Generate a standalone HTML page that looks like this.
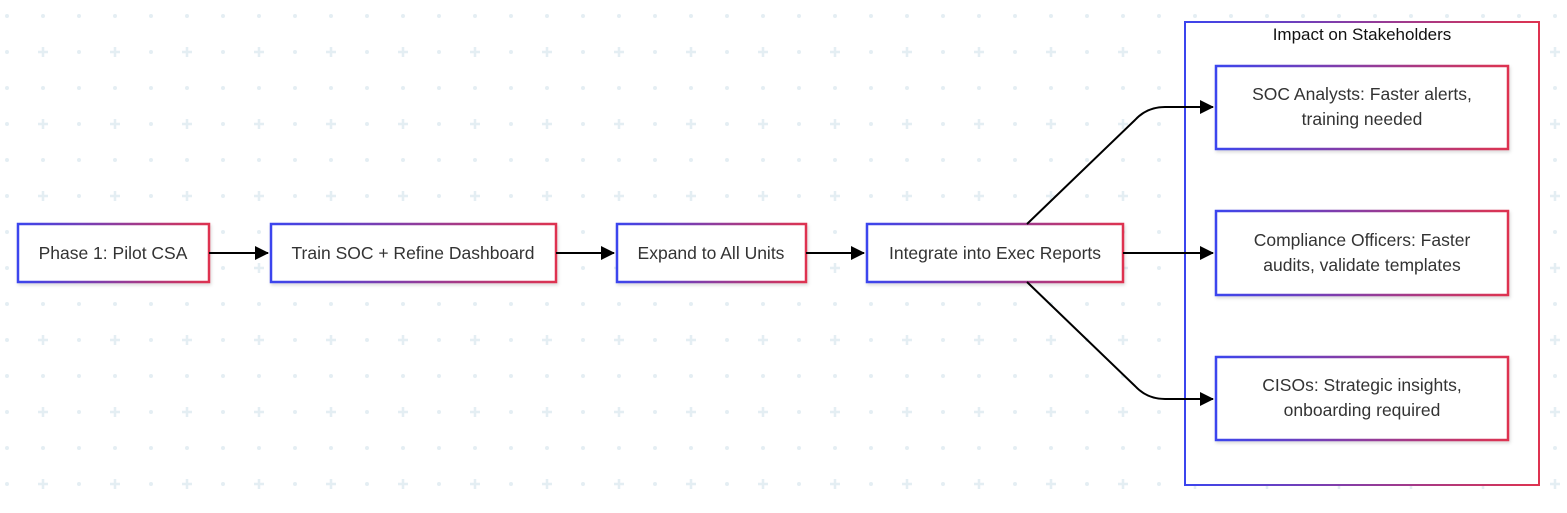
<!DOCTYPE html>
<html><head><meta charset="utf-8"><style>
html,body{margin:0;padding:0;background:#fff;}
svg{display:block;font-family:"Liberation Sans",Arial,sans-serif;}
</style></head><body>
<svg width="1567" height="513" viewBox="0 0 1567 513" xmlns="http://www.w3.org/2000/svg">
<defs>
<pattern id="bg" x="7" y="16" width="72" height="72" patternUnits="userSpaceOnUse">
<circle cx="0" cy="0" r="2" fill="#e4eef3"/><circle cx="72" cy="0" r="2" fill="#e4eef3"/>
<circle cx="0" cy="72" r="2" fill="#e4eef3"/><circle cx="72" cy="72" r="2" fill="#e4eef3"/>
<circle cx="36" cy="0" r="2" fill="#e4eef3"/><circle cx="0" cy="36" r="2" fill="#e4eef3"/>
<circle cx="72" cy="36" r="2" fill="#e4eef3"/><circle cx="36" cy="72" r="2" fill="#e4eef3"/>
<path d="M36 31v10M31 36h10" stroke="#e4eef3" stroke-width="2.5"/>
</pattern>
<linearGradient id="g" x1="0" y1="0" x2="1" y2="0"><stop offset="0" stop-color="#3b45ee"/><stop offset="1" stop-color="#de3350"/></linearGradient>
<marker id="a" markerWidth="14" markerHeight="14" refX="13" refY="7" orient="auto" markerUnits="userSpaceOnUse" viewBox="0 0 14 14"><path d="M0 0L14 7L0 14z" fill="#000"/></marker>
<filter id="s" x="-5%" y="-5%" width="110%" height="115%"><feDropShadow dx="1" dy="2" stdDeviation="1.5" flood-opacity="0.15"/></filter>
</defs>
<rect width="1567" height="513" fill="#fff"/>
<rect width="1567" height="513" fill="url(#bg)"/>
<rect x="1185" y="22" width="354" height="463" fill="#fff" stroke="url(#g)" stroke-width="2"/>
<text x="1362" y="40" font-size="17" text-anchor="middle" fill="#111">Impact on Stakeholders</text>
<g fill="#fff" stroke="url(#g)" stroke-width="2.5" filter="url(#s)">
<rect x="18" y="224" width="191" height="58"/>
<rect x="271" y="224" width="285" height="58"/>
<rect x="617" y="224" width="189" height="58"/>
<rect x="867" y="224" width="256" height="58"/>
<rect x="1216" y="66" width="292" height="83"/>
<rect x="1216" y="211" width="292" height="84"/>
<rect x="1216" y="357" width="292" height="83"/>
</g>
<g stroke="#000" stroke-width="2" fill="none" marker-end="url(#a)">
<path d="M209 253H268"/><path d="M556 253H614"/><path d="M806 253H864"/><path d="M1123 253H1213"/>
<path d="M1027 224L1135 120Q1147 107 1165 107H1213"/>
<path d="M1027 282L1135 386Q1147 399 1165 399H1213"/>
</g>
<g font-size="17.5" fill="#333" text-anchor="middle">
<text x="113" y="259">Phase 1: Pilot CSA</text>
<text x="413" y="259">Train SOC + Refine Dashboard</text>
<text x="711" y="259">Expand to All Units</text>
<text x="995" y="259">Integrate into Exec Reports</text>
<text x="1362" y="100">SOC Analysts: Faster alerts,</text>
<text x="1362" y="125">training needed</text>
<text x="1362" y="246">Compliance Officers: Faster</text>
<text x="1362" y="271">audits, validate templates</text>
<text x="1362" y="391">CISOs: Strategic insights,</text>
<text x="1362" y="416">onboarding required</text>
</g>
</svg>
</body></html>
